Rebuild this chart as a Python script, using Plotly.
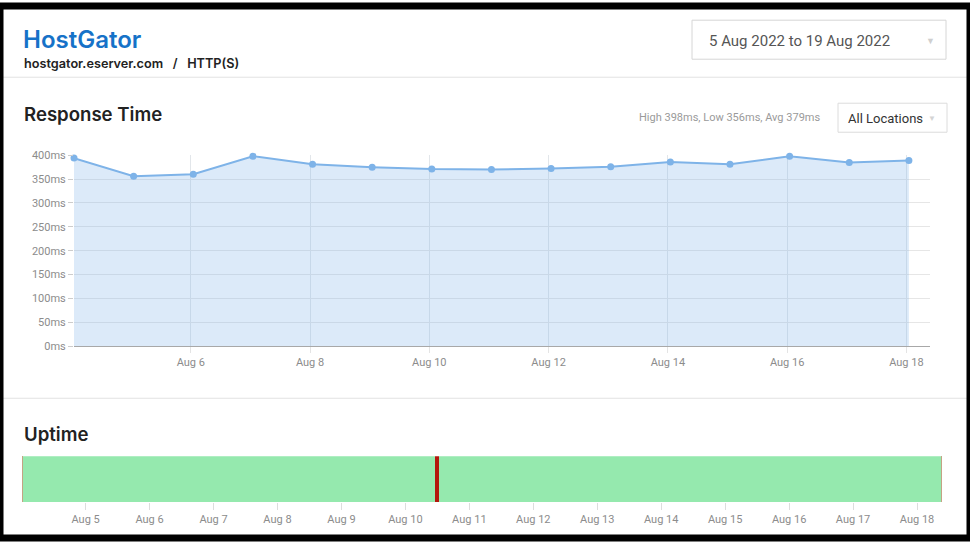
import pandas as pd
import plotly.graph_objects as go

W, H = 970, 545

# response time, one check per day (ms)
rt_dates = ["2022-08-04 01:00", "2022-08-05 01:00", "2022-08-06 01:00", "2022-08-07 01:00",
            "2022-08-08 01:00", "2022-08-09 01:00", "2022-08-10 01:00", "2022-08-11 01:00",
            "2022-08-12 01:00", "2022-08-13 01:00", "2022-08-14 01:00", "2022-08-15 01:00",
            "2022-08-16 01:00", "2022-08-17 01:00", "2022-08-18 01:00"]
rt_ms = [394, 356, 360, 398, 381, 375, 371, 370, 372, 376, 386, 381, 398, 385, 389]
y_ticks = [0, 50, 100, 150, 200, 250, 300, 350, 400]
y_labels = [f"{v}ms" for v in y_ticks]

# uptime periods
up_start = ["2022-08-04 00:30", "2022-08-10 11:00", "2022-08-10 12:30"]
up_end = ["2022-08-10 11:00", "2022-08-10 12:30", "2022-08-18 09:00"]
up_status = ["up", "down", "up"]
status_colors = {"up": "#95e9ae", "down": "#b3170d"}

rt_range = ["2022-08-04 01:00", "2022-08-18 09:30"]
up_range = ["2022-08-04 00:30", "2022-08-18 09:00"]

# the photo of the page comes out a little squeezed vertically, undo that
SQ, OFF = 0.976, 5.8


def px(x):
    return x / W


def py(y):
    return 1 - ((y - OFF) / SQ) / H


dur = (pd.to_datetime(up_end) - pd.to_datetime(up_start)).total_seconds() * 1000

fig = go.Figure()
fig.add_trace(go.Scatter(
    x=rt_dates, y=rt_ms, mode="lines+markers",
    line=dict(color="#7eb3e8", width=2),
    marker=dict(color="#7eb3e8", size=7),
    fill="tozeroy", fillcolor="rgba(126,179,232,0.27)",
    cliponaxis=False, xaxis="x", yaxis="y", hoverinfo="skip"
))
fig.add_trace(go.Bar(
    y=[0] * len(up_start), x=list(dur), base=up_start, orientation="h",
    marker=dict(color=[status_colors[s] for s in up_status], line=dict(width=0)),
    width=1, xaxis="x2", yaxis="y2", hoverinfo="skip"
))

tick_font = dict(family="Roboto", size=11, color="#8c8c8c")

fig.update_layout(
    width=W, height=H,
    margin=dict(l=0, r=0, t=0, b=0),
    paper_bgcolor="white", plot_bgcolor="white",
    showlegend=False, bargap=0,
    xaxis=dict(domain=[px(74), px(930)], type="date", range=rt_range,
               tick0="2022-08-06", dtick=2 * 86400000, tickformat="%b %-d",
               showgrid=True, gridcolor="#e2e6ea", showline=True, linecolor="#a8a8a8",
               ticks="outside", ticklen=6, tickcolor="#e4e4e4",
               tickfont=tick_font, anchor="y", fixedrange=True),
    yaxis=dict(domain=[py(346), py(155)], range=[0, 400], tickvals=y_ticks, ticktext=y_labels,
               showgrid=True, gridcolor="#e6e6e6", zeroline=False,
               ticks="outside", ticklen=5, tickcolor="#cccccc",
               tickfont=tick_font, anchor="x", fixedrange=True),
    xaxis2=dict(domain=[px(23), px(941)], type="date", range=up_range,
                tick0="2022-08-05", dtick=86400000, tickformat="%b %-d",
                showgrid=False, showline=False, zeroline=False,
                ticks="outside", ticklen=7, tickcolor="#dddddd",
                tickfont=tick_font, anchor="y2", fixedrange=True),
    yaxis2=dict(domain=[py(502), py(456)], range=[-0.5, 0.5],
                showline=True, mirror=True, linecolor="#c4a384", linewidth=1,
                showgrid=False, zeroline=False, showticklabels=False, ticks="",
                anchor="x2", fixedrange=True),
)

shapes = [
    # separators
    dict(type="line", x0=0, x1=1, y0=py(77), y1=py(77), line=dict(color="#e2e2e2", width=1)),
    dict(type="line", x0=0, x1=1, y0=py(398), y1=py(398), line=dict(color="#e2e2e2", width=1)),
    # dropdown boxes
    dict(type="rect", x0=px(692), x1=px(946), y0=py(59), y1=py(20),
         line=dict(color="#d6d6d6", width=1), fillcolor="white"),
    dict(type="rect", x0=px(838), x1=px(947), y0=py(132), y1=py(103),
         line=dict(color="#dcdcdc", width=1), fillcolor="white"),
]
for s in shapes:
    s.update(xref="paper", yref="paper", layer="below")
# screenshot frame
shapes.append(dict(type="rect", xref="paper", yref="paper", x0=0, x1=1, y0=0, y1=1,
                   line=dict(color="black", width=7), layer="above"))
fig.update_layout(shapes=shapes)


def label(x, y, text, size, color, weight="normal", anchor="left", family="Roboto"):
    fig.add_annotation(x=px(x), y=py(y), xref="paper", yref="paper", text=text,
                       showarrow=False, xanchor=anchor, yanchor="middle",
                       font=dict(family=family, size=size, color=color, weight=weight))


label(21, 39, "HostGator", 24, "#1672c8", weight=600, family="Inter")
label(22, 63, "hostgator.eserver.com&nbsp;&nbsp;&nbsp;/&nbsp;&nbsp;&nbsp;HTTP(S)", 12.7, "#222222",
      weight=600, family="Inter")
label(707, 41, "5 Aug 2022 to 19 Aug 2022", 15, "#555555")
label(930, 41, "▼", 9, "#cfcfcf", anchor="center")
label(22, 114, "Response Time", 18.6, "#222222", weight=600, family="Inter")
label(822, 117, "High 398ms, Low 356ms, Avg 379ms", 11, "#9a9a9a", anchor="right")
label(846, 118, "All Locations", 13, "#333333")
label(932, 118, "▼", 8, "#d4d4d4", anchor="center")
label(22, 434, "Uptime", 18.6, "#222222", weight=600, family="Inter")

page_js = (
    "document.documentElement.style.overflow='hidden';"
    "document.body.style.margin='0';"
    "document.body.style.overflow='hidden';"
)
fig.write_html("out.html", config={"displayModeBar": False}, post_script=page_js)
